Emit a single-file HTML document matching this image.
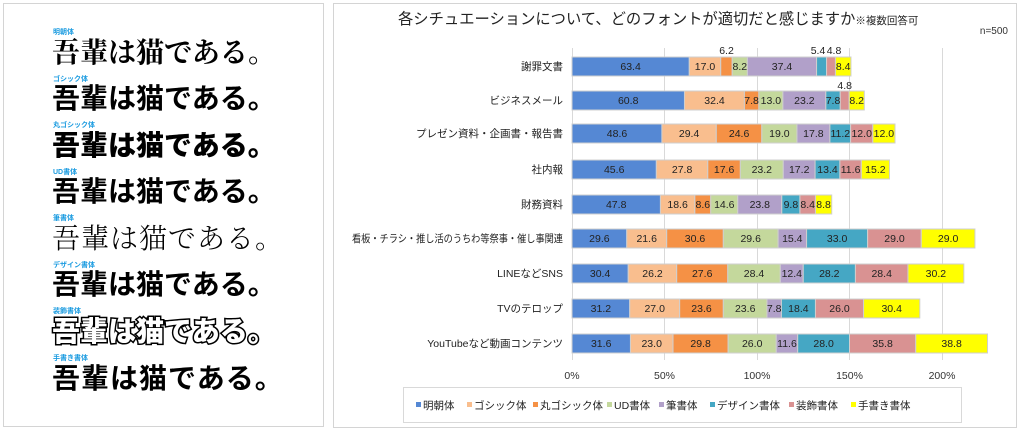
<!DOCTYPE html>
<html><head><meta charset="utf-8"><style>
html,body{margin:0;padding:0;background:#fff;width:1020px;height:433px;overflow:hidden}
svg text{font-family:"Liberation Sans","Noto Sans CJK JP",sans-serif}
</style></head><body>
<svg width="1020" height="433" viewBox="0 0 1020 433" xmlns="http://www.w3.org/2000/svg">
<rect x="3.5" y="3.5" width="320" height="423" fill="#fff" stroke="#d4d4d4"/>
<rect x="333.5" y="3.5" width="683" height="424" fill="#fff" stroke="#d4d4d4"/>
<g font-weight="bold" font-size="7" fill="#1a9be0">
<text x="53" y="34">明朝体</text><text x="53" y="81">ゴシック体</text><text x="53" y="127">丸ゴシック体</text><text x="53" y="174">UD書体</text>
<text x="53" y="220">筆書体</text><text x="53" y="267">デザイン書体</text><text x="53" y="313">装飾書体</text><text x="53" y="360">手書き書体</text></g>
<g fill="#000" font-size="28">
<text x="52" y="62" style="font-family:'Noto Serif CJK SC',serif" font-weight="bold">吾輩は猫である。</text>
<text x="52" y="108" font-weight="bold">吾輩は猫である。</text>
<text x="52" y="155" font-weight="900">吾輩は猫である。</text>
<text x="52" y="201" font-weight="bold">吾輩は猫である。</text>
<text x="52" y="248" style="font-family:'Noto Serif CJK SC',serif" font-weight="300" letter-spacing="1">吾輩は猫である。</text>
<text x="52" y="294" font-weight="bold">吾輩は猫である。</text>
<text x="52" y="341" font-weight="900" stroke="#000" stroke-width="3">吾輩は猫である。</text>
<text x="52" y="341" font-weight="900" fill="#fff">吾輩は猫である。</text>
<text x="52" y="388" font-weight="bold" letter-spacing="1">吾輩は猫である。</text></g>

<text x="398" y="24" font-size="15.3" fill="#222">各シチュエーションについて、どのフォントが適切だと感じますか<tspan font-size="10.5">※複数回答可</tspan></text>
<text x="1008" y="34" font-size="10" fill="#333" text-anchor="end">n=500</text>

<g stroke="#d9d9d9" stroke-width="1">
<line x1="572.5" y1="48" x2="572.5" y2="360"/><line x1="664.5" y1="48" x2="664.5" y2="360"/><line x1="757.5" y1="48" x2="757.5" y2="360"/><line x1="849.5" y1="48" x2="849.5" y2="360"/><line x1="942.5" y1="48" x2="942.5" y2="360"/></g>

<g transform="translate(572 0) scale(1.85 1)" stroke="#cfcfcf" stroke-width="1">
<g transform="translate(0 57)">
<rect x="0" width="63.4" height="19" fill="#5588d4" vector-effect="non-scaling-stroke"/><rect x="63.4" width="17" height="19" fill="#f9be8e" vector-effect="non-scaling-stroke"/><rect x="80.4" width="6.2" height="19" fill="#f59145" vector-effect="non-scaling-stroke"/><rect x="86.6" width="8.2" height="19" fill="#c4d89c" vector-effect="non-scaling-stroke"/><rect x="94.8" width="37.4" height="19" fill="#b1a0c9" vector-effect="non-scaling-stroke"/><rect x="132.2" width="5.4" height="19" fill="#45a7c4" vector-effect="non-scaling-stroke"/><rect x="137.6" width="4.8" height="19" fill="#d99292" vector-effect="non-scaling-stroke"/><rect x="142.4" width="8.4" height="19" fill="#ffff00" vector-effect="non-scaling-stroke"/></g>
<g transform="translate(0 91)">
<rect x="0" width="60.8" height="19" fill="#5588d4" vector-effect="non-scaling-stroke"/><rect x="60.8" width="32.4" height="19" fill="#f9be8e" vector-effect="non-scaling-stroke"/><rect x="93.2" width="7.8" height="19" fill="#f59145" vector-effect="non-scaling-stroke"/><rect x="101" width="13" height="19" fill="#c4d89c" vector-effect="non-scaling-stroke"/><rect x="114" width="23.2" height="19" fill="#b1a0c9" vector-effect="non-scaling-stroke"/><rect x="137.2" width="7.8" height="19" fill="#45a7c4" vector-effect="non-scaling-stroke"/><rect x="145" width="4.8" height="19" fill="#d99292" vector-effect="non-scaling-stroke"/><rect x="149.8" width="8.2" height="19" fill="#ffff00" vector-effect="non-scaling-stroke"/></g>
<g transform="translate(0 124)">
<rect x="0" width="48.6" height="19" fill="#5588d4" vector-effect="non-scaling-stroke"/><rect x="48.6" width="29.4" height="19" fill="#f9be8e" vector-effect="non-scaling-stroke"/><rect x="78" width="24.6" height="19" fill="#f59145" vector-effect="non-scaling-stroke"/><rect x="102.6" width="19" height="19" fill="#c4d89c" vector-effect="non-scaling-stroke"/><rect x="121.6" width="17.8" height="19" fill="#b1a0c9" vector-effect="non-scaling-stroke"/><rect x="139.4" width="11.2" height="19" fill="#45a7c4" vector-effect="non-scaling-stroke"/><rect x="150.6" width="12" height="19" fill="#d99292" vector-effect="non-scaling-stroke"/><rect x="162.6" width="12" height="19" fill="#ffff00" vector-effect="non-scaling-stroke"/></g>
<g transform="translate(0 160)">
<rect x="0" width="45.6" height="19" fill="#5588d4" vector-effect="non-scaling-stroke"/><rect x="45.6" width="27.8" height="19" fill="#f9be8e" vector-effect="non-scaling-stroke"/><rect x="73.4" width="17.6" height="19" fill="#f59145" vector-effect="non-scaling-stroke"/><rect x="91" width="23.2" height="19" fill="#c4d89c" vector-effect="non-scaling-stroke"/><rect x="114.2" width="17.2" height="19" fill="#b1a0c9" vector-effect="non-scaling-stroke"/><rect x="131.4" width="13.4" height="19" fill="#45a7c4" vector-effect="non-scaling-stroke"/><rect x="144.8" width="11.6" height="19" fill="#d99292" vector-effect="non-scaling-stroke"/><rect x="156.4" width="15.2" height="19" fill="#ffff00" vector-effect="non-scaling-stroke"/></g>
<g transform="translate(0 195)">
<rect x="0" width="47.8" height="19" fill="#5588d4" vector-effect="non-scaling-stroke"/><rect x="47.8" width="18.6" height="19" fill="#f9be8e" vector-effect="non-scaling-stroke"/><rect x="66.4" width="8.6" height="19" fill="#f59145" vector-effect="non-scaling-stroke"/><rect x="75" width="14.6" height="19" fill="#c4d89c" vector-effect="non-scaling-stroke"/><rect x="89.6" width="23.8" height="19" fill="#b1a0c9" vector-effect="non-scaling-stroke"/><rect x="113.4" width="9.8" height="19" fill="#45a7c4" vector-effect="non-scaling-stroke"/><rect x="123.2" width="8.4" height="19" fill="#d99292" vector-effect="non-scaling-stroke"/><rect x="131.6" width="8.8" height="19" fill="#ffff00" vector-effect="non-scaling-stroke"/></g>
<g transform="translate(0 229)">
<rect x="0" width="29.6" height="19" fill="#5588d4" vector-effect="non-scaling-stroke"/><rect x="29.6" width="21.6" height="19" fill="#f9be8e" vector-effect="non-scaling-stroke"/><rect x="51.2" width="30.6" height="19" fill="#f59145" vector-effect="non-scaling-stroke"/><rect x="81.8" width="29.6" height="19" fill="#c4d89c" vector-effect="non-scaling-stroke"/><rect x="111.4" width="15.4" height="19" fill="#b1a0c9" vector-effect="non-scaling-stroke"/><rect x="126.8" width="33" height="19" fill="#45a7c4" vector-effect="non-scaling-stroke"/><rect x="159.8" width="29" height="19" fill="#d99292" vector-effect="non-scaling-stroke"/><rect x="188.8" width="29" height="19" fill="#ffff00" vector-effect="non-scaling-stroke"/></g>
<g transform="translate(0 264)">
<rect x="0" width="30.4" height="19" fill="#5588d4" vector-effect="non-scaling-stroke"/><rect x="30.4" width="26.2" height="19" fill="#f9be8e" vector-effect="non-scaling-stroke"/><rect x="56.6" width="27.6" height="19" fill="#f59145" vector-effect="non-scaling-stroke"/><rect x="84.2" width="28.4" height="19" fill="#c4d89c" vector-effect="non-scaling-stroke"/><rect x="112.6" width="12.4" height="19" fill="#b1a0c9" vector-effect="non-scaling-stroke"/><rect x="125" width="28.2" height="19" fill="#45a7c4" vector-effect="non-scaling-stroke"/><rect x="153.2" width="28.4" height="19" fill="#d99292" vector-effect="non-scaling-stroke"/><rect x="181.6" width="30.2" height="19" fill="#ffff00" vector-effect="non-scaling-stroke"/></g>
<g transform="translate(0 299)">
<rect x="0" width="31.2" height="19" fill="#5588d4" vector-effect="non-scaling-stroke"/><rect x="31.2" width="27" height="19" fill="#f9be8e" vector-effect="non-scaling-stroke"/><rect x="58.2" width="23.6" height="19" fill="#f59145" vector-effect="non-scaling-stroke"/><rect x="81.8" width="23.6" height="19" fill="#c4d89c" vector-effect="non-scaling-stroke"/><rect x="105.4" width="7.8" height="19" fill="#b1a0c9" vector-effect="non-scaling-stroke"/><rect x="113.2" width="18.4" height="19" fill="#45a7c4" vector-effect="non-scaling-stroke"/><rect x="131.6" width="26" height="19" fill="#d99292" vector-effect="non-scaling-stroke"/><rect x="157.6" width="30.4" height="19" fill="#ffff00" vector-effect="non-scaling-stroke"/></g>
<g transform="translate(0 334)">
<rect x="0" width="31.6" height="19" fill="#5588d4" vector-effect="non-scaling-stroke"/><rect x="31.6" width="23" height="19" fill="#f9be8e" vector-effect="non-scaling-stroke"/><rect x="54.6" width="29.8" height="19" fill="#f59145" vector-effect="non-scaling-stroke"/><rect x="84.4" width="26" height="19" fill="#c4d89c" vector-effect="non-scaling-stroke"/><rect x="110.4" width="11.6" height="19" fill="#b1a0c9" vector-effect="non-scaling-stroke"/><rect x="122" width="28" height="19" fill="#45a7c4" vector-effect="non-scaling-stroke"/><rect x="150" width="35.8" height="19" fill="#d99292" vector-effect="non-scaling-stroke"/><rect x="185.8" width="38.8" height="19" fill="#ffff00" vector-effect="non-scaling-stroke"/></g>
</g>

<g font-size="10.5" fill="#222" text-anchor="middle">
<text x="630.6" y="70">63.4</text><text x="705" y="70">17.0</text><text x="726.5" y="54">6.2</text><text x="739.8" y="70">8.2</text><text x="782" y="70">37.4</text><text x="818" y="54">5.4</text><text x="834" y="54">4.8</text><text x="843.2" y="70">8.4</text>
<text x="628.2" y="104">60.8</text><text x="714.5" y="104">32.4</text><text x="751.6" y="104">7.8</text><text x="770.9" y="104">13.0</text><text x="804.4" y="104">23.2</text><text x="833" y="104">7.8</text><text x="844.7" y="89">4.8</text><text x="856.7" y="104">8.2</text>
<text x="617" y="137">48.6</text><text x="689.1" y="137">29.4</text><text x="739.1" y="137">24.6</text><text x="779.4" y="137">19.0</text><text x="813.4" y="137">17.8</text><text x="840.3" y="137">11.2</text><text x="861.7" y="137">12.0</text><text x="883.9" y="137">12.0</text>
<text x="614.2" y="173">45.6</text><text x="682.1" y="173">27.8</text><text x="724.1" y="173">17.6</text><text x="761.8" y="173">23.2</text><text x="799.2" y="173">17.2</text><text x="827.5" y="173">13.4</text><text x="850.6" y="173">11.6</text><text x="875.4" y="173">15.2</text>
<text x="616.2" y="208">47.8</text><text x="677.6" y="208">18.6</text><text x="702.8" y="208">8.6</text><text x="724.3" y="208">14.6</text><text x="759.8" y="208">23.8</text><text x="790.9" y="208">9.8</text><text x="807.7" y="208">8.4</text><text x="823.6" y="208">8.8</text>
<text x="599.4" y="242">29.6</text><text x="646.7" y="242">21.6</text><text x="695" y="242">30.6</text><text x="750.7" y="242">29.6</text><text x="792.3" y="242">15.4</text><text x="837.1" y="242">33.0</text><text x="894.5" y="242">29.0</text><text x="948.1" y="242">29.0</text>
<text x="600.1" y="277">30.4</text><text x="652.5" y="277">26.2</text><text x="702.2" y="277">27.6</text><text x="754" y="277">28.4</text><text x="791.8" y="277">12.4</text><text x="829.3" y="277">28.2</text><text x="881.7" y="277">28.4</text><text x="935.9" y="277">30.2</text>
<text x="600.9" y="312">31.2</text><text x="654.7" y="312">27.0</text><text x="701.5" y="312">23.6</text><text x="745.2" y="312">23.6</text><text x="774.2" y="312">7.8</text><text x="798.4" y="312">18.4</text><text x="839.5" y="312">26.0</text><text x="891.7" y="312">30.4</text>
<text x="601.2" y="347">31.6</text><text x="651.7" y="347">23.0</text><text x="700.6" y="347">29.8</text><text x="752.2" y="347">26.0</text><text x="787" y="347">11.6</text><text x="823.6" y="347">28.0</text><text x="882.6" y="347">35.8</text><text x="951.6" y="347">38.8</text>
</g>

<g font-size="10.5" fill="#222" text-anchor="end">
<text x="563" y="70">謝罪文書</text><text x="563" y="104">ビジネスメール</text><text x="563" y="137">プレゼン資料・企画書・報告書</text><text x="563" y="173">社内報</text><text x="563" y="208">財務資料</text><text x="563" y="242" textLength="211" lengthAdjust="spacingAndGlyphs">看板・チラシ・推し活のうちわ等祭事・催し事関連</text><text x="563" y="277">LINEなどSNS</text><text x="563" y="312">TVのテロップ</text><text x="563" y="347">YouTubeなど動画コンテンツ</text>
</g>
<g font-size="10.5" fill="#333" text-anchor="middle">
<text x="572" y="379">0%</text><text x="664.5" y="379">50%</text><text x="757" y="379">100%</text><text x="849.5" y="379">150%</text><text x="942" y="379">200%</text></g>

<rect x="403.5" y="387.5" width="558" height="35" fill="#fff" stroke="#d9d9d9"/>
<g font-size="10.5" fill="#222">
<rect x="416" y="402" width="5" height="5" fill="#5588d4"/><text x="423" y="409">明朝体</text>
<rect x="467" y="402" width="5" height="5" fill="#f9be8e"/><text x="474" y="409">ゴシック体</text>
<rect x="533" y="402" width="5" height="5" fill="#f59145"/><text x="540" y="409">丸ゴシック体</text>
<rect x="607" y="402" width="5" height="5" fill="#c4d89c"/><text x="614" y="409">UD書体</text>
<rect x="659" y="402" width="5" height="5" fill="#b1a0c9"/><text x="666" y="409">筆書体</text>
<rect x="710" y="402" width="5" height="5" fill="#45a7c4"/><text x="717" y="409">デザイン書体</text>
<rect x="789" y="402" width="5" height="5" fill="#d99292"/><text x="796" y="409">装飾書体</text>
<rect x="851" y="402" width="5" height="5" fill="#ffff00"/><text x="858" y="409">手書き書体</text>
</g>
</svg>
</body></html>
